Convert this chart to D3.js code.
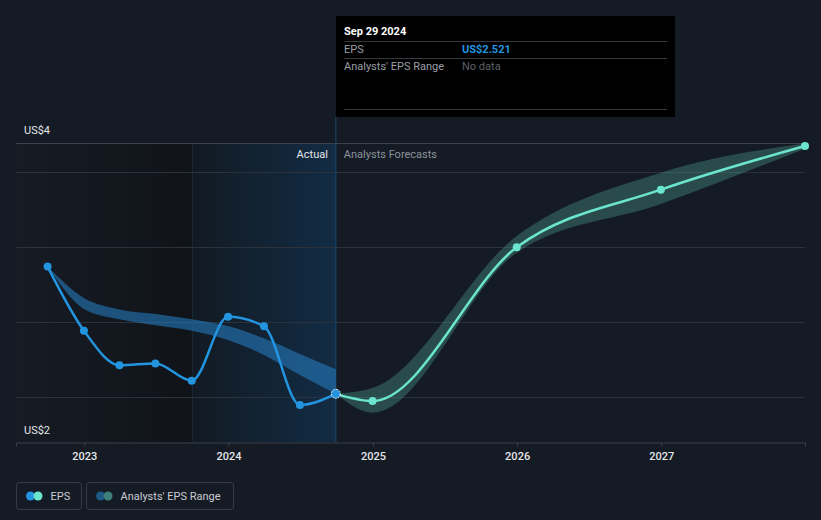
<!DOCTYPE html>
<html lang="en">
<head>
  <meta charset="UTF-8">
  <title>EPS - actual and analysts forecasts</title>
  <script src="https://cdn.jsdelivr.net/npm/d3@7"></script>
</head>

<style>
body {
  margin: 0;
  background: #151b24;
}
text {
  font-family: Roboto, "Noto Sans", sans-serif;
  font-size: 11px;
}
</style>

<body>

  <svg width="821" height="520"></svg>

  <script>

    // actual EPS (quarterly, trailing)
    var actualDates = ["2022-09-30", "2022-12-31", "2023-03-31", "2023-06-30", "2023-09-30",
                       "2023-12-31", "2024-03-31", "2024-06-30", "2024-09-29"]
    var actualEps   = [3.369, 2.942, 2.711, 2.724, 2.609, 3.035, 2.971, 2.447, 2.521]
    // what analysts expected back then
    var pastLow     = [3.369, 3.087, 3.018, 2.978, 2.942, 2.880, 2.780, 2.647, 2.521]
    var pastHigh    = [3.369, 3.160, 3.084, 3.053, 3.018, 2.973, 2.891, 2.787, 2.685]

    // analysts forecasts
    var forecastDates = ["2024-09-29", "2024-12-31", "2025-12-31", "2026-12-31", "2027-12-31"]
    var forecastEps   = [2.521, 2.473, 3.498, 3.882, 4.173]
    var forecastLow   = [2.521, 2.395, 3.462, 3.787, 4.155]
    var forecastHigh  = [2.521, 2.560, 3.573, 3.995, 4.190]

    var gridValues = [2.5, 3, 3.5, 4]
    var yearTicks  = ["2023-01-01", "2024-01-01", "2025-01-01", "2026-01-01", "2027-01-01"]
    var yLabels    = ["US$4", "US$2"]

    var parse = d3.timeParse("%Y-%m-%d")

    var x = d3.scaleTime()
      .domain([parse("2022-07-12"), parse("2027-12-31")])
      .range([16, 805])
    var y = d3.scaleLinear()
      .domain([2.2, 4.193])
      .range([442, 143])

    var lastDate = parse(actualDates[actualDates.length - 1])
    var yearAgo = parse("2023-09-30")

    var svg = d3.select("svg")
    var defs = svg.append("defs")

    var g1 = defs.append("linearGradient").attr("id", "pastShade")
    g1.append("stop").attr("offset", "0%").attr("stop-color", "#161b24")
    g1.append("stop").attr("offset", "100%").attr("stop-color", "#101419")

    var g2 = defs.append("linearGradient").attr("id", "yearShade")
    g2.append("stop").attr("offset", "0%").attr("stop-color", "#121a23")
    g2.append("stop").attr("offset", "100%").attr("stop-color", "#122c44")

    // background shading of the actual part
    svg.append("rect")
      .attr("x", x.range()[0]).attr("y", y.range()[1])
      .attr("width", x(yearAgo) - x.range()[0])
      .attr("height", y.range()[0] - y.range()[1])
      .attr("fill", "url(#pastShade)")
    svg.append("rect")
      .attr("x", x(yearAgo)).attr("y", y.range()[1])
      .attr("width", x(lastDate) - x(yearAgo))
      .attr("height", y.range()[0] - y.range()[1])
      .attr("fill", "url(#yearShade)")
    svg.append("line")
      .attr("x1", Math.round(x(yearAgo)) + 0.5).attr("x2", Math.round(x(yearAgo)) + 0.5)
      .attr("y1", y.range()[1]).attr("y2", y.range()[0])
      .attr("stroke", "#1a2631")

    // grid
    svg.selectAll(".grid")
      .data(gridValues.concat([y.domain()[1]]))
      .enter()
      .append("line")
      .attr("x1", x.range()[0]).attr("x2", x.range()[1])
      .attr("y1", d => Math.round(y(d)) + 0.5)
      .attr("y2", d => Math.round(y(d)) + 0.5)
      .attr("stroke", (d, i) => i == gridValues.length ? "#3b414b" : "#2c323c")

    // x axis
    var xAxis = svg.append("g")
      .attr("transform", "translate(0," + (y.range()[0] + 0.5) + ")")
      .call(d3.axisBottom(x)
        .tickValues(yearTicks.map(parse))
        .tickFormat(d3.timeFormat("%Y"))
        .tickSize(4)
        .tickPadding(6))
    xAxis.select(".domain").attr("stroke", "#3b414b")
    xAxis.selectAll(".tick line").attr("stroke", "#3b414b")
    xAxis.selectAll(".tick text")
      .attr("fill", "#e4e6e9")
      .style("font-family", "Roboto, sans-serif")
      .style("font-size", "11px")
      .style("font-weight", "500")

    svg.selectAll(".ylab")
      .data(yLabels)
      .enter()
      .append("text")
      .attr("x", 24)
      .attr("y", (d, i) => i == 0 ? 134 : 434)
      .attr("fill", "#e4e6e9")
      .text(d => d)

    // today line
    svg.append("line")
      .attr("x1", x(lastDate)).attr("x2", x(lastDate))
      .attr("y1", 117).attr("y2", y.range()[0])
      .attr("stroke", "#1c4a70")

    var actual = actualDates.map((d, i) => ({date: parse(d), v: actualEps[i], lo: pastLow[i], hi: pastHigh[i]}))
    var forecast = forecastDates.map((d, i) => ({date: parse(d), v: forecastEps[i], lo: forecastLow[i], hi: forecastHigh[i]}))

    var area = d3.area()
      .x(d => x(d.date))
      .y0(d => y(d.lo))
      .y1(d => y(d.hi))
      .curve(d3.curveMonotoneX)
    var line = d3.line()
      .x(d => x(d.date))
      .y(d => y(d.v))
      .curve(d3.curveMonotoneX)

    svg.append("path").attr("d", area(actual)).attr("fill", "#2479bd").attr("opacity", 0.6)
    svg.append("path").attr("d", area(forecast)).attr("fill", "#4fa595").attr("opacity", 0.35)

    svg.append("path").attr("d", line(forecast))
      .attr("fill", "none").attr("stroke", "#6ce5cf").attr("stroke-width", 2.5)
    svg.append("path").attr("d", line(actual))
      .attr("fill", "none").attr("stroke", "#2394df").attr("stroke-width", 2.5)

    svg.selectAll(".fdot")
      .data(forecast.slice(1))
      .enter()
      .append("circle")
      .attr("cx", d => x(d.date)).attr("cy", d => y(d.v))
      .attr("r", 4).attr("fill", "#6ce5cf")

    svg.selectAll(".adot")
      .data(actual)
      .enter()
      .append("circle")
      .attr("cx", d => x(d.date)).attr("cy", d => y(d.v))
      .attr("r", (d, i) => i == actual.length - 1 ? 4.5 : 4)
      .attr("fill", "#2394df")
      .attr("stroke", (d, i) => i == actual.length - 1 ? "#ffffff" : "none")
      .attr("stroke-dasharray", "2,1")

    svg.append("text")
      .attr("x", x(lastDate) - 8).attr("y", 158)
      .attr("text-anchor", "end")
      .attr("fill", "#e4e6e9")
      .text("Actual")
    svg.append("text")
      .attr("x", x(lastDate) + 8).attr("y", 158)
      .attr("fill", "#8d929a")
      .text("Analysts Forecasts")

    // tooltip
    var tip = svg.append("g").attr("transform", "translate(336,16)")
    tip.append("rect").attr("width", 339).attr("height", 101).attr("fill", "#000")
    tip.selectAll("line")
      .data([25, 42, 93])
      .enter()
      .append("line")
      .attr("x1", 8).attr("x2", 331)
      .attr("y1", d => d + 0.5).attr("y2", d => d + 0.5)
      .attr("stroke", "#363a40")
    tip.append("text").attr("x", 8).attr("y", 19)
      .attr("fill", "#fff").style("font-weight", "bold")
      .text(d3.timeFormat("%b %d %Y")(lastDate))
    tip.append("text").attr("x", 8).attr("y", 37)
      .attr("fill", "#9a9ea5").text("EPS")
    tip.append("text").attr("x", 126).attr("y", 37)
      .attr("fill", "#2394df").style("font-weight", "bold")
      .text("US$" + d3.format(".3f")(actualEps[actualEps.length - 1]))
    tip.append("text").attr("x", 8).attr("y", 54)
      .attr("fill", "#9a9ea5").text("Analysts' EPS Range")
    tip.append("text").attr("x", 126).attr("y", 54)
      .attr("fill", "#5c6068").text("No data")

    // legend
    var legend = [
      {label: "EPS", c1: "#2394df", c2: "#6ce5cf", x: 16.5, w: 65},
      {label: "Analysts' EPS Range", c1: "#1d5a88", c2: "#3f7f7a", x: 86.5, w: 147}
    ]
    var lg = svg.selectAll(".legend")
      .data(legend)
      .enter()
      .append("g")
      .attr("transform", d => "translate(" + d.x + ",482.5)")
    lg.append("rect")
      .attr("width", d => d.w).attr("height", 27).attr("rx", 3)
      .attr("fill", "none").attr("stroke", "#363c46")
    lg.append("circle").attr("cx", 14).attr("cy", 13.5).attr("r", 4.5).attr("fill", d => d.c1)
    lg.append("circle").attr("cx", 21.5).attr("cy", 13.5).attr("r", 4.5).attr("fill", d => d.c2)
    lg.append("text")
      .attr("x", 34)
      .attr("y", 17.5)
      .attr("fill", "#c9ccd1")
      .text(d => d.label)
  </script>

</body>
</html>
